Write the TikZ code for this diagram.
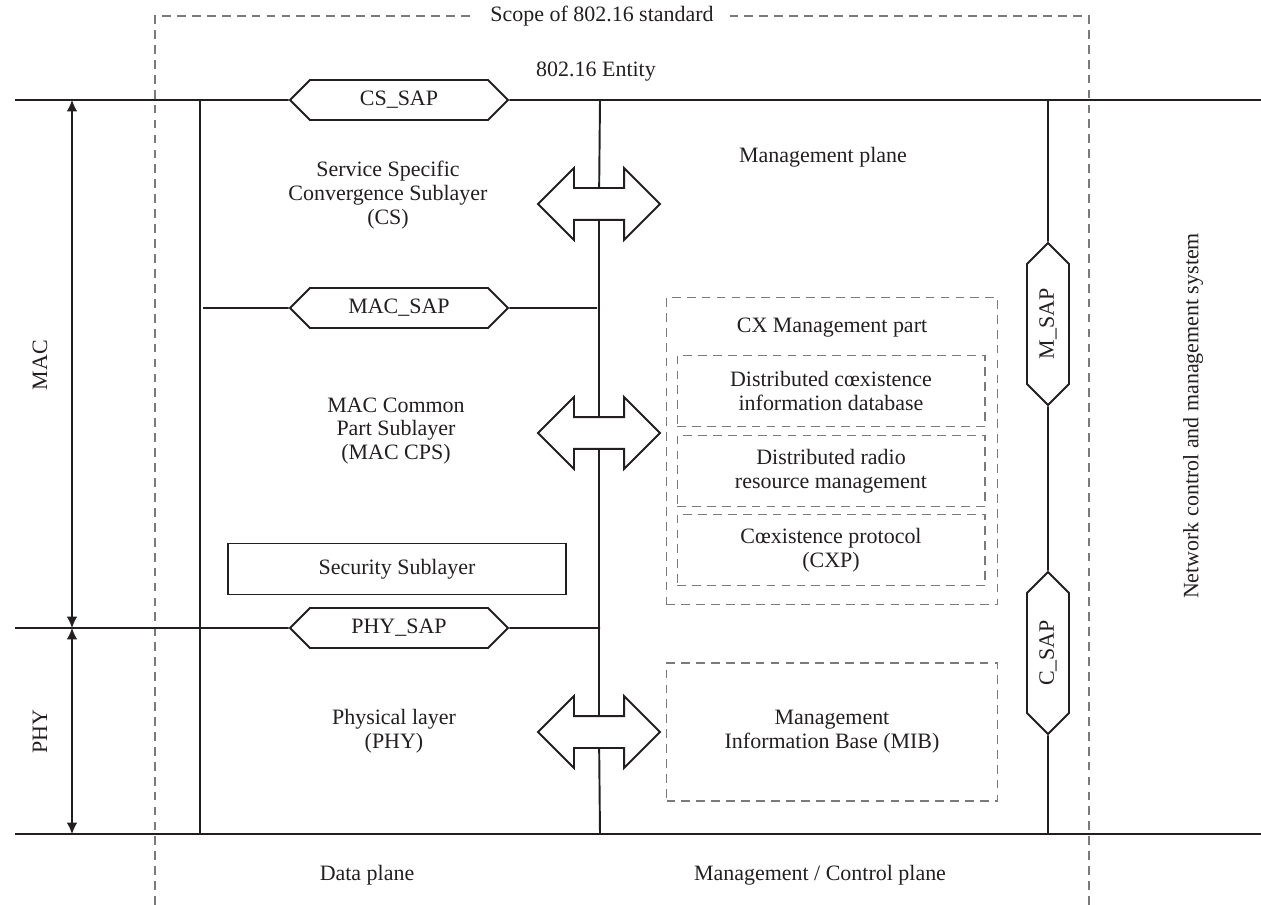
\documentclass[tikz,border=0pt]{standalone}
\usepackage{fontspec}
\setmainfont{Liberation Serif}
\usetikzlibrary{positioning,shapes.symbols,shapes.arrows,arrows.meta}
\definecolor{ink}{HTML}{231F20}
\definecolor{dashgray}{HTML}{7A7A7A}

\begin{document}
\begin{tikzpicture}[x=0.02cm, y=-0.02cm,
    every node/.style={font=\fontsize{12.5}{13.5}\selectfont, text=ink},
    frame/.style={draw=ink, line width=1.1pt},
    sap/.style={signal, signal to=east and west, draw=ink, fill=white,
      line width=1.1pt, minimum width=4.36cm, minimum height=0.8cm, inner sep=0pt},
    msap/.style={sap, rotate=90, minimum width=3.24cm, minimum height=0.84cm},
    dbl/.style={double arrow, draw=ink, fill=white, line width=1.1pt,
      inner xsep=0pt, inner ysep=0.3cm, minimum height=2.44cm,
      double arrow head extend=0.4cm},
    part/.style={draw=dashgray, dash pattern=on 5pt off 3.5pt, line width=0.6pt,
      align=center, outer sep=0pt},
    span/.style={draw=ink, line width=0.6pt,
      {Latex[length=6.5pt,width=6pt]}-{Latex[length=6.5pt,width=6pt]}}]
  \useasboundingbox (0,0) rectangle (1261,905);

  % scope of the standard
  \draw[part] (155,905) |- (1089,16) -- (1089,905);
  \node[fill=white, inner xsep=8pt] (scope) at (602,16) {Scope of 802.16 standard};
  \node (entity) at (596,72) {802.16 Entity};

  % frame lines
  \coordinate (tl) at (15,100);  \coordinate (tr) at (1261,100);
  \coordinate (bl) at (15,834);  \coordinate (br) at (1261,834);
  \coordinate (ltop) at (200,100); \coordinate (lbot) at (200,834);
  \coordinate (ctop) at (600,100); \coordinate (cbot) at (600,834);
  \coordinate (rtop) at (1048,100); \coordinate (rbot) at (1048,834);

  \node[sap] (cssap) at (399,100) {CS\_SAP};
  \node[sap] (macsap) at (399,308) {MAC\_SAP};
  \node[sap] (physap) at (399,628) {PHY\_SAP};
  \node[msap] (msap) at (1048,324) {M\_SAP};
  \node[msap] (csap) at (1048,653) {C\_SAP};

  \node[dbl] (arrcs) at (599,204) {};
  \node[dbl] (arrmac) at (599,433) {};
  \node[dbl] (arrphy) at (599,732) {};

  \draw[frame] (tl) -- (cssap) -- (tr);
  \draw[frame] (bl) -- (br);
  \draw[frame] (ltop) -- (lbot);
  \draw[frame] (ctop) -- (arrcs) -- (arrmac) -- (arrphy) -- (cbot);
  \draw[frame] (rtop) -- (msap) -- (csap) -- (rbot);
  \draw[frame] (203,308) coordinate (mleft) -- (macsap) -- (597,308) coordinate (mright);
  \draw[frame] (15,628) coordinate (pleft) -- (physap) -- (600,628) coordinate (pright);

  % data plane
  \node[align=center] (cs) at (388,195) {Service Specific\\Convergence Sublayer\\(CS)};
  \node[align=center] (cps) at (396,431) {MAC Common\\Part Sublayer\\(MAC CPS)};
  \node[frame, minimum width=6.76cm, minimum height=1.02cm] (sec) at (397,569)
    {Security Sublayer};
  \node[align=center] (phy) at (394,731) {Physical layer\\(PHY)};

  % management plane
  \node (mgmt) at (823,157) {Management plane};
  \node[part, minimum width=6.62cm, minimum height=6.16cm] (cx) at (832,451) {};
  \node (cxtitle) at (832,328) {CX Management part};
  \node[part, minimum width=6.16cm, minimum height=1.42cm] (dcid) at (831,391)
    {Distributed c\oe xistence\\information database};
  \node[part, minimum width=6.16cm, minimum height=1.42cm, below=0.18cm of dcid]
    (drrm) {Distributed radio\\resource management};
  \node[part, minimum width=6.16cm, minimum height=1.42cm, below=0.16cm of drrm]
    (cxp) {C\oe xistence protocol\\(CXP)};
  \node[part, minimum width=6.62cm, minimum height=2.76cm] (mib) at (832,732)
    {Management\\Information Base (MIB)};

  % layer extents
  \coordinate (macT) at (72,100);
  \coordinate (macB) at (72,628);
  \coordinate (phyB) at (72,834);
  \draw[span] (macT) -- (macB);
  \draw[span] (macB) -- (phyB);
  \node[rotate=90] (maclbl) at (40,365) {MAC};
  \node[rotate=90] (phylbl) at (40,732) {PHY};

  \node[rotate=90] (ncms) at (1193,416) {Network control and management system};
  \node (dataplane) at (367,875) {Data plane};
  \node (ctrlplane) at (820,875) {Management / Control plane};
\end{tikzpicture}
\end{document}
